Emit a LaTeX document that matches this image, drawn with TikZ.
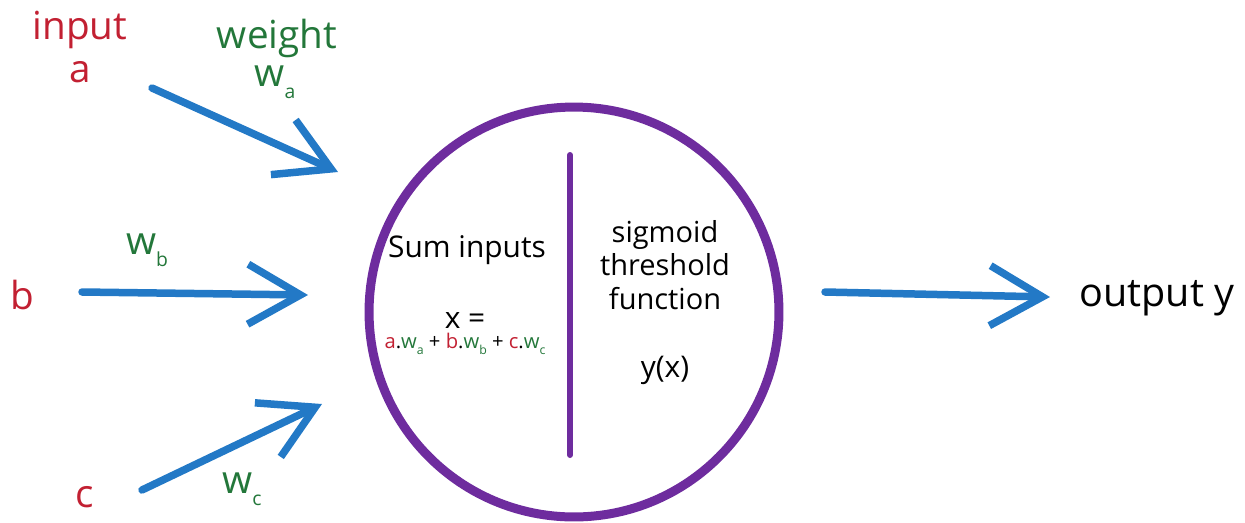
\documentclass[tikz,border=0pt]{standalone}
\usepackage{fontspec}
\setmainfont{Open Sans}
\usepackage{tikz}
\usetikzlibrary{arrows.meta}
\definecolor{inred}{HTML}{C22032}
\definecolor{wgreen}{HTML}{23773A}
\definecolor{arrblue}{HTML}{2379C6}
\definecolor{cellpurple}{HTML}{6E2C9E}
\newcommand{\wsub}[2][11]{w\raisebox{-0.6ex}{\fontsize{#1}{#1}\selectfont #2}}
\tikzset{
  inlab/.style={text=inred, font=\fontsize{22}{24}\selectfont, inner sep=0pt},
  wlab/.style={text=wgreen, font=\fontsize{22}{24}\selectfont, inner sep=0pt},
  txt/.style={align=center, font=\fontsize{17}{19}\selectfont, inner sep=0pt},
  arr/.style={-{Straight Barb[length=1.05cm, width=1.2cm]}, line width=0.15cm, draw=arrblue, line cap=round},
  cell/.style={circle, draw=cellpurple, line width=0.18cm, minimum size=8.2cm, inner sep=0pt},
  divider/.style={draw=cellpurple, line width=0.12cm, line cap=round},
}

\begin{document}
\begin{tikzpicture}[x=0.02cm, y=-0.02cm]
  \useasboundingbox (0,0) rectangle (1245,522);
  % inputs and weights
  \node[inlab] (intxt) at (80,30) {input};
  \node[inlab] (ina) at (80,72) {a};
  \node[inlab] (inb) at (22,295) {b};
  \node[inlab] (inc) at (85,497) {c};
  \node[wlab] (wtxt) at (277,38) {weight};
  \node[wlab] (wa) at (275,82) {\wsub{a}};
  \node[wlab] (wb) at (147,250) {\wsub{b}};
  \node[wlab] (wc) at (242,489) {\wsub{c}};
  % neuron
  \node[cell] (neuron) at (574,312) {};
  \coordinate (d0) at (570,155);
  \coordinate (d1) at (570,455);
  \draw[divider] (d0) -- (d1);
  \node[txt] (sumtxt) at (467,250) {Sum inputs};
  \node[txt] (xeq) at (465,320) {x =};
  \node[txt, font=\fontsize{11.5}{13}\selectfont] (sumf) at (465,344)
    {\textcolor{inred}{a}.\textcolor{wgreen}{\wsub[7]{a}} + \textcolor{inred}{b}.\textcolor{wgreen}{\wsub[7]{b}} + \textcolor{inred}{c}.\textcolor{wgreen}{\wsub[7]{c}}};
  \node[txt, font=\fontsize{16.5}{19}\selectfont] (sigtxt) at (665,265) {sigmoid\\threshold\\function};
  \node[txt] (yx) at (665,370) {y(x)};
  \node[txt, font=\fontsize{22.5}{24}\selectfont] (out) at (1157,298) {output y};
  % arrows
  \coordinate (a0) at (152,88);  \coordinate (a1) at (338,172);
  \coordinate (b0) at (82,292);  \coordinate (b1) at (308,295);
  \coordinate (c0) at (142,490); \coordinate (c1) at (322,404);
  \coordinate (y0) at (825,292); \coordinate (y1) at (1050,297);
  \draw[arr] (a0) -- (a1);
  \draw[arr] (b0) -- (b1);
  \draw[arr] (c0) -- (c1);
  \draw[arr] (y0) -- (y1);
\end{tikzpicture}
\end{document}
